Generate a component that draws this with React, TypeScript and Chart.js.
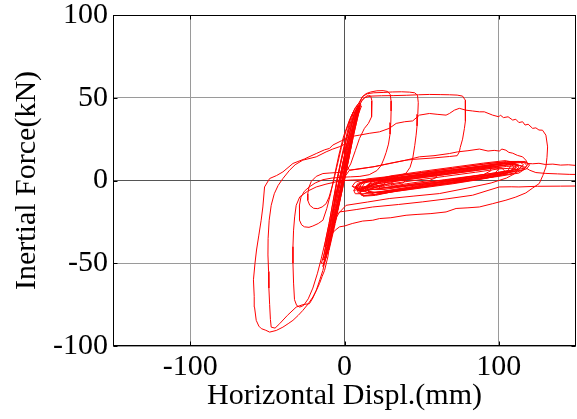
import React, { useEffect, useRef } from "react";
import { Chart, registerables } from "chart.js";

Chart.register(...registerables);

// ---- axis definitions ----
const xTickValues = [-100, 0, 100];
const yTickValues = [-100, -50, 0, 50, 100];
const xRange = [-150, 150];
const yRange = [-100, 100];
const xTitle = "Horizontal Displ.(mm)";
const yTitle = "Inertial Force(kN)";

// ---- hysteresis data: [displacement mm, inertial force kN] ----
const elasticCycles: [number, number][] = [
  [0, 0], [3, 14], [6, 30], [8, 40], [9.5, 44], [7, 38], [3, 20], [-1, 2], [-5, -16], [-9, -32],
  [-12, -43], [-13, -47], [-10.5, -41], [-7, -27], [-3, -9], [1, 9], [5, 27], [8.5, 41], [10, 45], [8, 41],
  [4, 25], [0, 7], [-4, -12], [-8, -28], [-11, -40], [-12.5, -45], [-9.5, -36], [-5.5, -18], [-1.5, 0], [2.5, 17],
  [6, 33], [9, 43], [10.5, 46], [8.5, 42], [3, 20], [-2, -3], [-6.5, -21], [-10, -36], [-13, -48], [-14, -52],
  [-11.5, -45], [-8, -30], [-4, -12], [0, 5], [4, 22], [7.5, 37], [9.5, 44], [7.5, 39], [2, 14], [-3, -7],
  [-7.5, -26], [-11.5, -42], [-9, -35], [-5, 0], [-1, 18], [4, 38], [6, 42], [3, 32], [-2, 12], [-6, -6],
  [-10, -26], [-13, -40], [-11, -38], [-7, -20], [-3, -2], [1, 14], [3.5, 22], [5, 28],
];

const elasticCycles2: [number, number][] = [
  [5, 28], [8, 44], [6, 40], [1, 20], [-3, 2], [-7, -16], [-11, -34], [-14, -48], [-12, -47], [-8, -30],
  [-4, -12], [0, 6], [4, 24], [7, 38], [9, 44], [8, 43], [4, 28], [-1, 8], [-6, -12], [-10, -30],
  [-13, -44], [-15, -50], [-13, -50], [-9, -36], [-5, -20], [-2, -6], [1, 8], [5, 26], [8, 40], [10, 46],
  [7, 42], [2, 24], [-2, 6], [-6, -10], [-9, -26], [-12, -40], [-10, -42], [-6, -26], [-2, -8], [2, 10],
  [6, 28], [9, 40], [11, 45], [9, 45], [5, 32], [0, 14], [-4, -4], [-8, -22], [-11, -36], [-13, -44],
  [-11, -44], [-7, -28], [-3, -12], [0, 2], [3, 16], [7, 34], [10, 44], [8.5, 45], [4.5, 33], [0.5, 17],
  [-3.5, 0], [-7, -15], [-10.5, -31], [-12.5, -41], [-9.5, -39], [-5.5, -22], [-1, -4], [2.5, 12], [6.5, 30], [9.5, 42],
];

const cycle1: [number, number][] = [
  [5, 28], [7.5, 38], [9.5, 45], [11.5, 48.5], [13.5, 50.5], [15.5, 51.5], [17, 51], [17.8, 48], [17.8, 43], [17.3, 38.5],
  [15.5, 34.5], [12.9, 31.5], [9.7, 25.4], [7, 18], [4, 10], [1, 5.2], [-5, 4.8], [-10, 4.5], [-14, 4.2], [-18.3, 2.5],
  [-21.5, -0.5], [-23, -4], [-23.8, -8], [-23.8, -12], [-22.5, -15], [-20, -16.8], [-17.3, -17], [-14.5, -16], [-11.9, -14], [-10, -10],
  [-7.5, -2], [-5, 8], [-2, 20], [1, 30], [4, 38], [7, 44], [9.5, 47],
];

const cycle2: [number, number][] = [
  [9.5, 47], [11.5, 50.5], [14, 52.5], [17, 53.5], [21, 54.2], [25, 54.3], [28, 53.8], [29.6, 52], [30.2, 48], [30.2, 42],
  [30, 35], [29.5, 28], [28.5, 22], [27, 17], [25.5, 13], [23.7, 9], [21, 6], [16, 3.5], [10, 2.5], [4, 2.2],
  [-1, 2], [-8, 1.5], [-14, 0.5], [-19, -1.5], [-23, -4], [-26, -6.5], [-28.2, -10], [-29.2, -15], [-29.3, -20], [-29, -24],
  [-27.8, -26.8], [-26, -28], [-23, -28.3], [-20.5, -27.5], [-17, -26], [-14, -24], [-11.5, -17], [-9, -8], [-6.5, 3], [-3.5, 16],
  [-0.5, 27], [3, 36], [6.5, 43], [9.5, 47],
];

const cycle3: [number, number][] = [
  [9.5, 47], [12, 51], [15, 52.5], [19, 53], [25, 53.2], [31, 53.5], [37, 53.6], [42, 53.4], [45.5, 53], [47.3, 51.5],
  [47.8, 47], [47.5, 40], [47, 33], [46.4, 27.4], [45.5, 21], [44.2, 13.3], [42.5, 8], [40, 4.5], [35, 2.5], [28, 1.5],
  [20, 1], [12, 0.5], [5, 0.3], [-1, 0], [-5.4, -0.8], [-12, -2.2], [-18.3, -3.9], [-24, -6.5], [-29, -9.9], [-31.3, -15],
  [-32.3, -22], [-33, -30], [-33.4, -40], [-33.4, -50], [-33, -62], [-32.4, -72], [-31, -75.5], [-29, -76.5], [-26.5, -75.5], [-23.5, -71.5],
  [-20.5, -65], [-17.5, -56], [-15, -47], [-12.5, -37], [-10, -26], [-7.5, -13], [-5, 0], [-2, 13], [1, 24], [4, 34],
  [7, 42], [10, 47],
];

const cycle4: [number, number][] = [
  [10, 47], [13, 50], [17, 51], [24, 51.2], [32, 51.3], [40, 51.5], [48, 51.8], [55, 52], [62, 51.9], [68, 51.8],
  [73, 51.6], [76.5, 51], [78.3, 48.5], [78.5, 43], [78.2, 36], [77.7, 31.5], [76.5, 25], [75, 20], [74.4, 17.3], [73, 15],
  [68, 14.5], [56, 13.5], [45, 12.8], [39.9, 12.3], [30, 10.5], [20, 8.5], [10, 7], [3.2, 6.2], [1, 10], [0, 16],
  [1.1, 22.4], [-3, 20.5], [-7.6, 19], [-11.9, 17.3], [-18.3, 14.3], [-27, 12.3], [-32, 9.5], [-35.6, 6.2], [-39.9, 1.2], [-43, -3],
  [-45.5, -8], [-47.5, -15], [-48.8, -24], [-49.5, -35], [-49.6, -45], [-49.2, -55], [-49, -65], [-48.5, -75], [-48, -84], [-47.5, -88.6],
  [-45, -89.2], [-42, -86.5], [-37, -81.5], [-31.3, -76.5], [-27, -75], [-22.7, -74.4], [-20.5, -71], [-18.3, -66.4], [-16, -60], [-14, -54.3],
  [-12, -46], [-10, -37], [-7.5, -24], [-4.5, -10], [-1.5, 4], [1.5, 17], [4.5, 29], [7.5, 38], [10, 44],
];

const cycle5: [number, number][] = [
  [10, 44], [7, 34], [4, 22], [1, 10], [-2, -2], [-5, -16], [-8, -30], [-10.8, -46.2], [-12.9, -54.3], [-14.5, -58],
  [-16.2, -62.3], [-18, -66], [-20.5, -70.4], [-23.5, -74.5], [-27, -78.5], [-30, -81.5], [-33.4, -84.5], [-36.5, -86.5], [-39.9, -88.6], [-44.2, -90.6],
  [-48.5, -91.6], [-51, -90.5], [-53.9, -89.5], [-55.5, -88], [-57.2, -84.5], [-58.3, -76.5], [-58.5, -70], [-59, -60], [-58, -50], [-57, -42],
  [-55.5, -33], [-54, -24], [-52.9, -16], [-51.8, -3.9], [-48.5, 1.2], [-44, 3], [-39.9, 5.2], [-33.4, 10.3], [-26, 13], [-18.3, 16.3],
  [-13, 18.5], [-9.7, 19.4], [-7.6, 21.4], [-2, 24], [3.2, 26.4], [9.7, 27.4], [16, 28.5], [22.7, 29.4], [29, 31.5], [33.5, 34.5],
  [39, 35.5], [44.2, 36], [48.5, 39.5], [55, 40.5], [60, 40], [65.8, 39.5], [68, 40.5], [71.2, 42.5], [74.4, 43.6], [78.7, 42.5],
  [83, 42], [87.4, 41.5], [90.6, 41.5], [96, 39.5], [100, 38.5], [101, 39.5], [103, 38], [106, 38.5], [109, 36.5], [111, 37],
  [113, 35], [115.4, 35.5], [117, 33.5], [119, 34], [121.9, 31.5], [124, 31.8], [126, 30.5], [128.3, 30.4], [130.5, 27.4], [131.6, 20.3],
  [131.2, 14], [130.5, 8.2], [128.5, 3], [126.2, -1.8], [122, -4.5], [117.5, -7.5], [111, -10], [104.6, -11.9], [96, -14], [87.4, -16],
  [80, -16.5], [72.3, -16.9], [65.8, -19], [56, -20], [47, -20.5], [39.9, -21], [30, -22.5], [22.7, -23], [18.3, -24], [11.8, -24.5],
  [5, -26], [0, -27.5], [-3.2, -28], [-6, -30], [-8, -32],
];

const residualLoopsA: [number, number][] = [
  [8, -5], [10, -1.5], [16, 0.5], [30, 2.2], [50, 4.8], [70, 7.3], [90, 9.8], [105, 11.5], [113, 11.5], [117, 10.5],
  [118, 9], [116, 6.5], [110, 4.5], [95, 2], [75, -1], [55, -3.5], [35, -6.3], [20, -8.5], [13, -9], [9, -7.5],
  [8, -5], [11, -4.5], [13, -1.5], [20, 0], [35, 1.8], [55, 4.2], [75, 6.8], [95, 9.2], [106, 10.5], [111, 10],
  [113, 8], [110, 5.5], [100, 3.5], [80, 0.5], [60, -2.5], [40, -5], [25, -7], [16, -7.5], [12, -6.5], [11, -4.5],
  [14, -3.5], [17, -1], [25, 0.5], [40, 2.5], [60, 5], [80, 7.5], [98, 10], [106, 10.5], [110, 8.5], [107, 5],
  [95, 2.5], [75, -0.5], [55, -3], [35, -5.5], [22, -7.5], [16, -6.5], [14, -3.5],
];

const residualLoopsB: [number, number][] = [
  [17, -3], [20, -1], [30, 0.8], [50, 3.5], [70, 6], [90, 8.5], [108, 10.8], [114, 11], [116, 9.5], [113, 7],
  [100, 5], [80, 2], [60, -1], [40, -3.5], [25, -5.5], [19, -5.5], [17, -3], [9, -6], [11, -2], [18, 0.5],
  [35, 3], [55, 5.5], [75, 8], [95, 10.5], [103, 11], [108, 9.5], [106, 6], [95, 3.5], [75, 0], [55, -3],
  [35, -6], [20, -9], [12, -9.5], [9, -6], [20, -2], [24, -0.5], [40, 2], [60, 4.5], [80, 7], [100, 9.5],
  [112, 11.5], [117, 11.5], [119, 10], [117, 7.5], [105, 5.5], [85, 3], [65, 0.5], [45, -2], [30, -4], [23, -4.5],
  [20, -2], [13, -5], [16, -2], [25, -0.5], [45, 2], [65, 4.5], [85, 7], [96, 8.5], [100, 7], [97, 4],
  [85, 2], [65, -1], [45, -3.5], [25, -6.5], [17, -7.5], [13, -5], [24, -1], [45, 2.5], [70, 5.5], [95, 8.5],
  [110, 9.8], [116, 8.5], [120, 6.2], [124, 4.8], [130, 4.3], [138, 4], [146, 3.7], [155, 3.6],
];

const residualLoopsC: [number, number][] = [
  [6, -6], [8, -3], [14, -0.5], [30, 1.5], [50, 4], [70, 6.5], [90, 9], [104, 10.8], [110, 10.5], [112, 8.5],
  [109, 6], [98, 4], [78, 1], [58, -2], [38, -4.8], [22, -7], [12, -8], [7, -8], [6, -6], [25, -2.5],
  [28, -0.5], [45, 1.5], [65, 4], [85, 6.5], [103, 9], [111, 10], [115, 8.5], [112, 6], [100, 4], [80, 1.5],
  [60, -1], [42, -3], [30, -4.5], [26, -4.5], [25, -2.5], [10, -7], [12, -4], [20, -2], [40, 0.5], [60, 3],
  [80, 5.5], [96, 7.5], [102, 7.5], [104, 5.5], [100, 3], [85, 0.5], [65, -2], [45, -4.5], [25, -7.5], [15, -9],
  [11, -9], [10, -7], [30, -1.5], [35, 0.5], [55, 3], [75, 5.5], [95, 8], [110, 10.5], [117, 11], [120, 9.5],
  [118, 7], [108, 5], [90, 2.5], [70, 0], [50, -2.5], [36, -3.5], [31, -3.5], [30, -1.5],
];

const residualLoopsD: [number, number][] = [
  [5, -3.5], [7, -1], [15, 1], [30, 2.5], [50, 4.5], [70, 6.5], [88, 8.5], [94, 8], [95, 6], [90, 3.5],
  [75, 1.5], [55, -1], [35, -3.5], [18, -5.5], [9, -6], [5, -3.5], [12, -5.5], [15, -3], [25, -1.5], [45, 1],
  [65, 3.5], [85, 6], [105, 8.5], [114, 9], [117, 7], [113, 4.5], [100, 2.5], [80, 0], [60, -2.5], [40, -5],
  [22, -7], [15, -7.5], [12, -5.5], [15, -4], [18, 0], [30, 2.8], [50, 5.5], [70, 8], [90, 10.5], [104, 12],
  [110, 11], [111, 8], [105, 4], [90, 1], [70, -2], [50, -4.5], [30, -7], [20, -8.5], [16, -7], [15, -4],
  [7, -4], [9, -1.5], [15, -0.5], [30, 1], [45, 2.5], [58, 3.5], [60, 2], [55, 0], [40, -2], [25, -4.5],
  [14, -6], [9, -6], [7, -4], [9, -3], [11, -1], [20, 0], [32, 1], [40, 0.5], [38, -1.5], [28, -3],
  [18, -4.5], [12, -4.5], [9, -3],
];

const lowerBranch1: [number, number][] = [
  [-8, -30], [-5, -22], [-3.2, -19], [8, -17.5], [18.3, -16], [35, -14.5], [50.7, -12.9], [67, -11], [83, -8.9], [93, -6],
  [100.3, -3.9], [108, -3.8], [113, -3.9], [125, -3.5], [140, -3.4], [155, -3.3],
];

const lowerBranch2: [number, number][] = [
  [-4, -20], [1, -15], [15, -13], [29, -10.9], [45, -9.4], [61.5, -7.9], [80, -4.5], [95, -1.5], [105, 1.5], [110, 4],
  [112, 6], [110, 7.5], [100, 7], [85, 5], [65, 2.5], [45, 0], [30, -2], [18, -3.5],
];

const upperBranch: [number, number][] = [
  [0, 2], [3.2, 6.2], [10, 7.2], [18.3, 8.2], [28, 10], [39.9, 12.3], [48.5, 14.3], [58, 15], [68, 16.3], [73.3, 17.3],
  [80, 18], [87.4, 19], [93, 17.8], [97, 18.2], [100.3, 17.8], [102, 19], [104.6, 18.3], [106.5, 17], [109, 16.5], [112, 15.2],
  [115.4, 14.3], [117.5, 12.3], [118.7, 10.3], [122, 10.1], [126, 10.4], [130, 9.7], [135, 9.9], [140, 9.3], [145, 9.5], [150, 9.1],
  [158, 9],
];

const allSeries = [
  elasticCycles, elasticCycles2, cycle1, cycle2, cycle3, cycle4, cycle5,
  residualLoopsA, residualLoopsB, residualLoopsC, residualLoopsD,
  lowerBranch1, lowerBranch2, upperBranch,
];

const FONT = "'Liberation Serif', 'Times New Roman', serif";

const framePlugin = {
  id: "frameBox",
  afterDatasetsDraw(chart: any) {
    const { ctx, chartArea: a, scales } = chart;
    ctx.save();
    ctx.strokeStyle = "#000";
    ctx.lineWidth = 1;
    const l = Math.round(a.left) + 0.5;
    const t = Math.round(a.top) + 0.5;
    const r = Math.round(a.right) - 0.5;
    const b = Math.round(a.bottom) - 0.5;
    ctx.strokeRect(l, t, r - l, b - t);
    const len = 4;
    ctx.beginPath();
    for (const v of xTickValues) {
      const px = Math.round(scales.x.getPixelForValue(v)) + 0.5;
      ctx.moveTo(px, b);
      ctx.lineTo(px, b - len);
      ctx.moveTo(px, t);
      ctx.lineTo(px, t + len);
    }
    for (const v of yTickValues) {
      const py = Math.round(scales.y.getPixelForValue(v)) + 0.5;
      ctx.moveTo(l, py);
      ctx.lineTo(l + len, py);
      ctx.moveTo(r, py);
      ctx.lineTo(r - len, py);
    }
    ctx.stroke();
    ctx.restore();
  },
};

export default function App() {
  const canvasRef = useRef<HTMLCanvasElement | null>(null);

  useEffect(() => {
    const canvas = canvasRef.current;
    if (!canvas) return;
    const gridColor = (c: any) => (c.tick && c.tick.value === 0 ? "#555555" : "#9a9a9a");
    const chart = new Chart(canvas, {
      type: "scatter",
      data: {
        datasets: allSeries.map((s, i) => ({
          label: "loop" + i,
          data: s.map(([x, y]) => ({ x, y })),
          showLine: true,
          borderColor: "#ff0000",
          backgroundColor: "#ff0000",
          borderWidth: 1,
          pointRadius: 0,
          tension: 0,
          fill: false,
        })),
      },
      options: {
        responsive: false,
        animation: false,
        devicePixelRatio: 1,
        layout: { padding: { top: 15, right: 1, left: 0, bottom: 0 } },
        plugins: { legend: { display: false }, tooltip: { enabled: false } },
        scales: {
          x: {
            type: "linear",
            min: xRange[0],
            max: xRange[1],
            afterBuildTicks: (s: any) => {
              s.ticks = xTickValues.map((v) => ({ value: v }));
            },
            afterFit: (s: any) => {
              s.height = 73;
              s.paddingLeft = 0;
              s.paddingRight = 0;
            },
            ticks: {
              padding: 3,
              color: "#000",
              maxRotation: 0,
              autoSkip: false,
              font: { family: FONT, size: 30 },
              callback: (v: any) => String(v),
            },
            grid: { drawTicks: false, color: gridColor, lineWidth: 1 },
            border: { display: false },
            title: {
              display: true,
              text: xTitle,
              color: "#000",
              font: { family: FONT, size: 30 },
              padding: { top: 0, bottom: 5 },
            },
          },
          y: {
            type: "linear",
            min: yRange[0],
            max: yRange[1],
            afterBuildTicks: (s: any) => {
              s.ticks = yTickValues.map((v) => ({ value: v }));
            },
            afterFit: (s: any) => {
              s.width = 113;
              s.paddingTop = 0;
              s.paddingBottom = 0;
            },
            ticks: {
              padding: 5,
              color: "#000",
              autoSkip: false,
              font: { family: FONT, size: 30 },
              callback: (v: any) => String(v),
            },
            grid: { drawTicks: false, color: gridColor, lineWidth: 1 },
            border: { display: false },
            title: {
              display: true,
              text: yTitle,
              color: "#000",
              font: { family: FONT, size: 30 },
              padding: { top: 9, bottom: 0 },
            },
          },
        },
      },
      plugins: [framePlugin],
    });
    return () => chart.destroy();
  }, []);

  return (
    <div style={{ position: "fixed", left: 0, top: 0, width: 577, height: 419, background: "#fff" }}>
      <canvas ref={canvasRef} width={577} height={419} style={{ display: "block" }} />
    </div>
  );
}
